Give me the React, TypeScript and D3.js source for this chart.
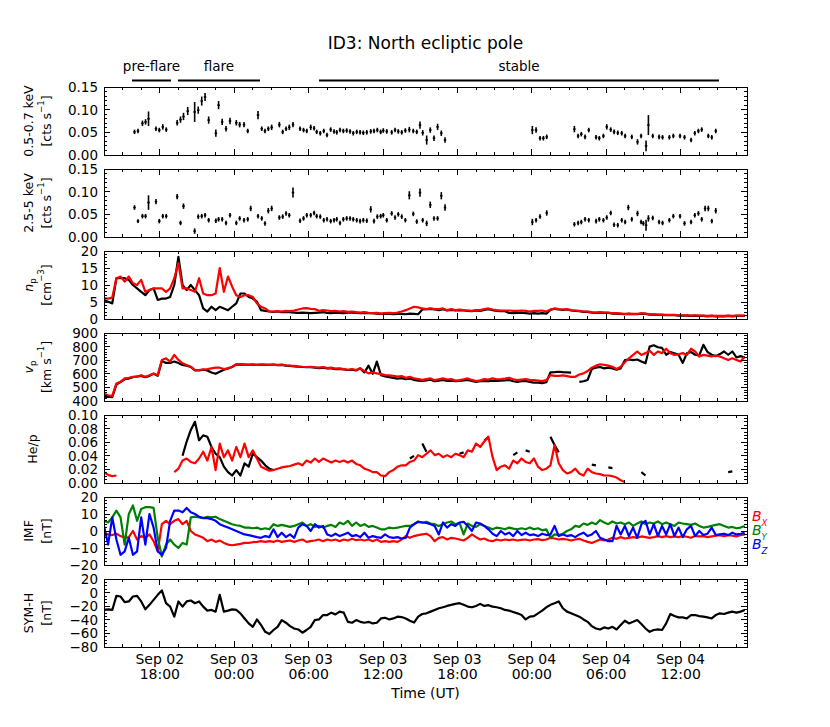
import React from 'react';
import * as d3 from 'd3';

// time axis: hours after Sep 02 00:00 UT
const DAY0 = Date.UTC(2015, 8, 2);
const toDate = (h: number) => new Date(DAY0 + h * 3600 * 1000);
const tStart = 13.5;
const tEnd = 65.35;
const gridStep = 1 / 3; // in-situ series are read every 20 min

// X-ray light curves (shared time bins)
const xrayHours = [
  15.96, 16.24, 16.60, 16.85, 17.09, 17.69, 17.96, 18.24, 18.52, 19.40,
  19.67, 19.91, 20.25, 20.81, 21.10, 21.38, 21.65, 21.94, 22.52, 22.74,
  23.03, 23.34, 23.66, 24.17, 24.44, 24.79, 25.09, 25.33, 25.92, 26.22,
  26.48, 26.75, 27.02, 27.64, 27.91, 28.18, 28.44, 28.74, 29.31, 29.59,
  29.85, 30.17, 30.44, 30.65, 30.94, 31.22, 31.48, 31.78, 32.05, 32.27,
  32.53, 32.80, 33.07, 33.34, 33.60, 33.88, 34.15, 34.41, 34.69, 35.01,
  35.27, 35.54, 35.81, 36.02, 36.30, 36.70, 36.97, 37.23, 37.51, 37.80,
  38.12, 38.44, 38.72, 38.98, 39.20, 39.52, 39.81, 40.11, 40.40, 40.70,
  41.00,
  48.04, 48.34, 48.66, 48.93, 49.20,
  51.43, 51.73, 51.99, 52.29, 52.59, 53.18, 53.44, 53.77, 54.04, 54.36,
  54.63, 54.93, 55.25, 55.52, 55.78, 56.06, 56.52, 56.81, 56.99, 57.21,
  57.40, 57.75, 58.26, 58.54, 59.09, 59.41, 59.95, 60.31, 60.84, 61.14,
  61.43, 61.70, 61.97, 62.23, 62.51, 62.83,
];
const softRate = [
  0.051, 0.053, 0.070, 0.073, 0.080, 0.058, 0.055, 0.062, 0.056, 0.071,
  0.078, 0.085, 0.097, 0.095, 0.099, 0.119, 0.128, 0.077, 0.048, 0.110,
  0.073, 0.058, 0.075, 0.071, 0.067, 0.067, 0.053, null, 0.088, 0.058,
  0.053, 0.058, 0.061, 0.067, 0.051, 0.058, 0.061, 0.067, 0.058, 0.055,
  0.053, 0.061, 0.059, 0.051, 0.048, 0.053, 0.044, 0.056, 0.052, 0.050,
  0.055, 0.053, 0.054, 0.052, 0.048, 0.051, 0.050, 0.049, 0.050, 0.052,
  0.053, 0.055, 0.051, 0.054, 0.052, 0.050, 0.055, 0.052, 0.050, 0.054,
  0.056, 0.053, 0.051, 0.066, 0.049, 0.033, 0.055, 0.037, 0.062, 0.048,
  0.033,
  0.055, 0.055, 0.037, 0.037, 0.040,
  0.057, 0.042, 0.046, 0.040, 0.055, 0.039, 0.037, 0.042, 0.062, 0.056,
  0.051, 0.049, 0.048, 0.042, null, 0.040, 0.029, 0.042, null, 0.020,
  0.066, 0.042, 0.040, 0.039, 0.039, 0.042, 0.042, 0.039, 0.033, 0.048,
  0.053, 0.056, null, 0.042, 0.039, 0.053,
];
const softErr = [
  0.005, 0.005, 0.006, 0.006, 0.016, 0.005, 0.005, 0.006, 0.005, 0.006,
  0.007, 0.008, 0.009, 0.022, 0.008, 0.010, 0.009, 0.008, 0.008, 0.009,
  0.007, 0.006, 0.007, 0.006, 0.006, 0.006, 0.005, 0, 0.009, 0.005,
  0.005, 0.005, 0.006, 0.006, 0.005, 0.005, 0.006, 0.006, 0.005, 0.005,
  0.005, 0.006, 0.005, 0.005, 0.005, 0.005, 0.005, 0.005, 0.005, 0.005,
  0.005, 0.005, 0.005, 0.005, 0.005, 0.005, 0.005, 0.005, 0.005, 0.005,
  0.005, 0.005, 0.005, 0.005, 0.005, 0.005, 0.005, 0.005, 0.005, 0.005,
  0.006, 0.005, 0.005, 0.008, 0.006, 0.010, 0.006, 0.006, 0.007, 0.006,
  0.006,
  0.009, 0.006, 0.005, 0.005, 0.005,
  0.007, 0.005, 0.005, 0.005, 0.005, 0.005, 0.005, 0.005, 0.006, 0.005,
  0.005, 0.005, 0.005, 0.005, 0, 0.005, 0.006, 0.005, 0, 0.012,
  0.022, 0.005, 0.005, 0.005, 0.005, 0.005, 0.005, 0.005, 0.005, 0.005,
  0.005, 0.005, 0, 0.005, 0.005, 0.005,
];
const hardRate = [
  0.065, 0.035, 0.046, 0.046, 0.076, 0.078, 0.035, 0.046, 0.046, 0.089,
  0.031, 0.068, null, 0.013, 0.045, 0.046, 0.048, 0.037, 0.036, 0.039,
  0.039, 0.031, 0.048, 0.031, 0.041, 0.037, 0.039, 0.063, 0.046, 0.041,
  0.030, 0.058, 0.063, 0.043, 0.045, 0.052, 0.048, 0.098, 0.036, 0.041,
  0.048, 0.048, 0.053, 0.046, 0.045, 0.037, 0.039, 0.035, 0.037, 0.039,
  0.031, 0.039, 0.041, 0.041, 0.039, 0.037, 0.035, 0.037, 0.036, 0.061,
  0.035, 0.045, 0.046, 0.048, 0.037, 0.052, 0.043, 0.050, 0.045, 0.037,
  0.092, 0.051, 0.034, 0.098, 0.037, 0.030, 0.071, 0.041, 0.041, 0.091,
  0.065,
  0.033, 0.037, 0.045, null, 0.053,
  0.028, 0.031, 0.033, 0.039, 0.037, 0.035, 0.039, 0.037, 0.043, 0.053,
  0.027, 0.026, 0.037, 0.033, 0.065, 0.039, 0.052, 0.033, 0.030, 0.026,
  0.041, 0.042, 0.033, 0.031, 0.037, 0.046, 0.046, 0.030, 0.033, 0.048,
  0.052, 0.039, 0.063, 0.063, 0.035, 0.058,
];
const hardErr = [
  0.005, 0.004, 0.005, 0.005, 0.016, 0.006, 0.005, 0.005, 0.005, 0.006,
  0.005, 0.006, 0, 0.006, 0.005, 0.005, 0.005, 0.005, 0.005, 0.005,
  0.005, 0.005, 0.005, 0.005, 0.005, 0.005, 0.005, 0.006, 0.005, 0.005,
  0.005, 0.006, 0.006, 0.005, 0.005, 0.005, 0.005, 0.011, 0.005, 0.005,
  0.005, 0.005, 0.005, 0.005, 0.005, 0.005, 0.005, 0.005, 0.005, 0.005,
  0.005, 0.005, 0.005, 0.005, 0.005, 0.005, 0.005, 0.005, 0.005, 0.007,
  0.005, 0.005, 0.005, 0.005, 0.005, 0.005, 0.005, 0.005, 0.005, 0.005,
  0.009, 0.005, 0.005, 0.009, 0.005, 0.006, 0.007, 0.005, 0.005, 0.008,
  0.007,
  0.007, 0.005, 0.005, 0, 0.006,
  0.005, 0.005, 0.005, 0.005, 0.005, 0.005, 0.005, 0.005, 0.005, 0.005,
  0.005, 0.005, 0.005, 0.005, 0.006, 0.005, 0.006, 0.005, 0.005, 0.012,
  0.007, 0.005, 0.005, 0.005, 0.005, 0.005, 0.005, 0.005, 0.005, 0.005,
  0.005, 0.005, 0.006, 0.006, 0.005, 0.006,
];

// proton density [cm^-3]
const npBlack = [
  5.6, 5.1, 4.6, 12.0, 12.0, 12.0, 11.5, 10.0, 9.0, 8.0,
  7.0, 8.5, 9.0, 5.6, 6.0, 6.0, 6.5, 10.0, 18.3, 10.0,
  8.5, 10.0, 8.5, 7.0, 3.1, 2.2, 3.6, 2.6, 3.6, 3.1,
  2.6, 3.6, 4.6, 7.5, 7.5, 6.5, 6.0, 5.1, 2.6, 2.4,
  2.2, 2.1, 2.2, 2.0, 2.1, 2.0, 1.9, 1.8, 1.9, 1.8,
  1.7, 1.8, 1.9, 2.0, 1.8, 1.7, 1.9, 1.8, 1.7, 1.9,
  1.9, 1.8, 1.7, 1.8, 1.7, 1.7, 1.6, 1.5, 1.6, 1.5,
  1.4, 1.5, 1.5, 1.4, 1.6, 1.5, 1.4, 2.8, 2.9, 3.0,
  2.8, 2.6, 2.9, 2.5, 2.7, 2.5, 2.6, 2.5, 2.4, 2.3,
  2.5, 2.4, 2.7, 2.9, 2.6, 2.4, 2.3, 2.3, 1.8, 1.7,
  1.8, 1.9, 1.7, 1.6, 1.7, 1.6, 1.7, 1.6, 2.7, 3.0,
  2.8, 2.7, 2.8, 2.5, 2.4, 2.3, 2.1, 2.1, 1.9, 1.8,
  1.9, 1.8, 1.8, 1.6, 1.6, 1.5, 1.4, 1.5, 1.4, 1.4,
  1.6, 1.5, 1.3, 1.3, 1.2, 1.2, 1.1, 1.1, 1.1, 1.0,
  1.0, 1.0, 0.9, 1.0, 0.9, 0.9, 0.8, 0.9, 0.8, 0.8,
  0.8, 0.9, 0.8, 0.9, 0.9, 0.9,
];
const npRed = [
  6.1, 6.0, 6.3, 12.0, 12.5, 11.0, 12.5, 10.5, 10.0, 11.5,
  8.0, 8.5, 9.0, 9.0, 9.0, 8.0, 9.0, 12.0, 16.4, 9.0,
  9.0, 8.5, 8.0, 12.0, 7.5, 7.0, 7.0, 7.5, 15.0, 8.0,
  12.5, 9.5, 7.0, 6.5, 7.0, 7.0, 6.5, 4.6, 3.6, 3.1,
  2.2, 2.2, 2.3, 2.2, 2.4, 2.3, 2.5, 2.8, 3.1, 3.2,
  3.0, 2.9, 2.4, 2.6, 2.5, 2.3, 2.4, 2.2, 2.3, 2.1,
  2.2, 2.0, 1.9, 2.0, 1.8, 1.7, 1.8, 1.6, 1.7, 1.8,
  1.7, 1.9, 2.2, 2.6, 3.1, 3.6, 3.4, 3.1, 2.9, 3.1,
  2.9, 2.9, 3.1, 2.6, 2.9, 2.6, 2.8, 2.6, 2.5, 2.4,
  2.6, 2.6, 2.9, 3.1, 2.8, 2.6, 2.5, 2.5, 2.5, 2.4,
  2.4, 2.5, 2.4, 2.2, 2.4, 2.4, 2.5, 2.2, 2.8, 3.1,
  2.9, 2.8, 2.9, 2.6, 2.5, 2.4, 2.2, 2.2, 2.0, 1.9,
  2.0, 1.9, 1.9, 1.7, 1.7, 1.6, 1.5, 1.6, 1.5, 1.5,
  1.7, 1.6, 1.4, 1.4, 1.3, 1.3, 1.2, 1.2, 1.2, 1.1,
  1.1, 1.1, 1.0, 1.1, 1.0, 1.0, 0.9, 1.0, 0.9, 0.9,
  0.9, 1.0, 0.9, 1.0, 1.0, 1.0,
];

// proton speed [km/s]
const vpBlack = [
  430, 432, 428, 520, 540, 560, 565, 575, 580, 585,
  575, 585, 600, 585, 695, 680, 680, 690, 680, 665,
  660, 650, 625, 625, 630, 625, 610, 600, 615, 630,
  640, 650, 668, 670, 668, 666, 668, 665, 667, 666,
  665, 667, 663, 665, 660, 658, 655, 652, 650, 648,
  648, 645, 642, 645, 640, 640, 635, 636, 632, 628,
  630, 625, 640, 610, 660, 600, 690, 590, 580, 575,
  570, 565, 568, 560, 565, 555, 550, 548, 552, 556,
  545, 550, 555, 548, 550, 545, 548, 552, 555, 548,
  540, 545, 548, 545, 550, 548, 550, 552, 555, 545,
  540, 545, 548, 540, 535, 535, 532, 538, 610, 612,
  615, 612, 610, 608, null, 540, 545, 555, 635, 645,
  650, 640, 645, 640, 630, 640, 700, 705, 700, 705,
  690, 677, 800, 810, 795, 790, 740, 760, 750, 740,
  680, 750, 760, 740, 735, 813, 760, 740, 730, 745,
  764, 740, 764, 720, 730, 720,
];
const vpRed = [
  454, 442, 437, 529, 541, 566, 571, 578, 578, 590,
  578, 590, 603, 590, 702, 714, 690, 739, 702, 677,
  665, 652, 628, 628, 633, 635, 640, 645, 645, 635,
  640, 652, 670, 672, 668, 667, 669, 666, 668, 667,
  666, 668, 665, 667, 663, 660, 658, 655, 652, 650,
  652, 648, 645, 650, 642, 645, 638, 640, 635, 630,
  635, 628, 640, 620, 603, 610, 603, 598, 590, 588,
  585, 580, 583, 570, 578, 566, 561, 555, 561, 566,
  553, 560, 566, 558, 561, 550, 553, 560, 566, 555,
  546, 552, 561, 558, 566, 560, 561, 565, 571, 560,
  553, 558, 561, 555, 553, 550, 546, 553, 590, 585,
  585, 588, 583, 578, 578, 595, 603, 620, 645, 660,
  670, 665, 660, 652, 635, 652, 685, 714, 739, 764,
  739, 752, 769, 739, 764, 752, 784, 752, 739, 744,
  752, 739, 784, 764, 727, 739, 734, 727, 734, 727,
  714, 702, 714, 702, 690, 727,
];

// alpha-to-proton ratio
const hepBlack = [
  null, null, null, null, null, null, null, null, null, null,
  null, null, null, null, null, null, null, null, null, 0.040,
  0.061, 0.078, 0.090, 0.063, 0.070, 0.068, 0.053, 0.043, 0.038, 0.024,
  0.016, 0.011, 0.019, 0.011, 0.029, 0.024, 0.043, 0.038, 0.033, 0.026,
  0.021, 0.019, null, null, null, null, null, null, null, null,
  null, null, null, null, null, null, null, null, null, null,
  null, null, null, null, null, null, null, null, null, null,
  null, null, null, null, 0.036, 0.040, null, 0.058, 0.046, null,
  null, null, null, null, null, null, 0.043, 0.045, null, null,
  null, null, 0.062, 0.068, null, null, null, null, null, 0.041,
  0.045, null, 0.048, 0.046, null, null, null, null, 0.068, 0.056,
  0.045, null, null, null, null, null, null, null, 0.027, 0.026,
  null, null, 0.023, 0.022, null, null, null, null, null, null,
  0.016, 0.011, null, null, null, null, null, null, null, null,
  null, null, null, null, null, null, null, null, null, null,
  null, 0.016, 0.017, null, null, null,
];
const hepRed = [
  0.016, 0.012, 0.010, 0.011, null, null, null, null, null, null,
  null, null, null, null, null, null, null, 0.016, 0.021, 0.033,
  0.036, 0.031, 0.029, 0.036, 0.046, 0.033, 0.053, 0.019, 0.058, 0.038,
  0.048, 0.033, 0.053, 0.038, 0.058, 0.038, 0.048, 0.036, 0.024, 0.021,
  0.018, 0.019, 0.021, 0.023, 0.024, 0.025, 0.027, 0.029, 0.026, 0.033,
  0.030, 0.036, 0.031, 0.036, 0.033, 0.030, 0.033, 0.031, 0.033, 0.030,
  0.033, 0.028, 0.026, 0.021, 0.019, 0.016, 0.016, 0.011, 0.010, 0.016,
  0.019, 0.024, 0.026, 0.026, 0.031, 0.033, 0.041, 0.038, 0.043, 0.048,
  0.041, 0.043, 0.038, 0.041, 0.038, 0.043, 0.041, 0.038, 0.048, 0.046,
  0.058, 0.053, 0.061, 0.068, 0.038, 0.019, 0.024, 0.026, 0.021, 0.033,
  0.029, 0.036, 0.031, 0.029, 0.036, 0.024, 0.019, 0.021, 0.026, 0.056,
  0.029, 0.019, 0.014, 0.016, 0.021, 0.014, 0.011, 0.021, 0.016, 0.014,
  0.013, 0.011, 0.011, 0.010, 0.008, 0.004, 0.0015, null, null, null,
  null, null, null, null, null, null, null, null, null, null,
  null, null, null, null, null, null, null, null, null, null,
  null, null, null, null, null, null,
];

// IMF components [nT]
const bx = [
  -1, -2, -2.4, -1.6, -3, -4, -3.6, 0, -5, -3,
  -4, -2, -6, -12, 4, 6, 4, 6, 7, 4,
  6, 0, -2, -3, -4, -6, -5, -6.4, -5.6, -7,
  -8, -8.4, -8, -7.6, -7, -7, -6.6, -6.4, -6, -6.4,
  -6, -6.4, -5.6, -6.4, -6, -5.6, -6.4, -5.6, -5, -6.4,
  -6, -5.6, -5, -6, -5, -5.6, -5, -6, -5, -5.6,
  -4.6, -5.4, -5, -5.6, -5, -6, -5, -6.4, -6, -6.4,
  -6, -6.4, -5, -3, -4, -3, -2.4, -2, -1.6, -3,
  -6, -4, -3.6, -5, -4, -4.4, -5, -5.6, -4, -2,
  -3.6, -5, -4.4, -5.6, -6, -5, -5.6, -5, -5.4, -5,
  -5.6, -5.2, -5, -5.6, -5, -4.8, -5.4, -5, -4, -4.4,
  -5, -4.6, -5, -5.6, -5, -4.6, -5.6, -6.4, -7, -6,
  -5, -5.6, -5, -4, -4.6, -3.6, -4.4, -4, -3.6, -4,
  -3.2, -3.6, -4, -3.6, -3, -3.6, -3, -3.6, -3.2, -3.6,
  -3, -3.4, -4, -3, -3.2, -3, -3.6, -3.2, -2.8, -2.4,
  -3, -2.4, -2.8, -3.2, -2.4, -2,
];
const by = [
  6, 5, 8, 12, 8, -8, 10, 15, 6, 13,
  14, 14, 13.6, -4, -15, -8, -5, -8, -10, -7,
  -8, 8, 8.4, 8, 7.6, 8.4, 8, 8.4, 7, 6,
  5, 4, 3.4, 3, 2, 2, 1.6, 2, 1, 1.6,
  1, 4, 3, 3.6, 3, 2.4, 3, 4, 5, 3,
  4, 2.4, 3, 2, 3, 3.6, 2.4, 5, 4, 6,
  3, 5, 3, 4, 2.4, 3, 2, 1, 1, 2,
  1.6, 2, 2.5, 3, 3, 4, 5.6, 5, 5.4, 4.4,
  4, 3, 4, 5, 5.6, 4, 4.8, -2, 4.4, 3,
  2.4, 4, 3, 2, 1, 2, 1.6, 1, 2, 1.4,
  1, 1.6, 1, 2, 1, 1.6, 0.4, 1, -4, -2,
  -2.4, -1.6, 0, 1, 3, 2.4, 4.4, 3.6, 5, 4,
  6.4, 5, 4, 5.6, 4.4, 5, 4, 5, 3, 4.4,
  5.6, 4, 5, 4.4, 5.6, 4, 5, 4, 3, 5,
  4.4, 4, 3.6, 4.4, 3, 2, 2.4, 3, 3.6, 4,
  3, 2, 2.4, 1.6, 2, 3,
];
const bz = [
  3, -8, 8, -5, -14, -12, -4, -14, -12, 8,
  -8, 10, 2, -12, -14, -10, 6, 12, 12, 11,
  13.6, 11, 10, 8.4, 7.6, 7.6, 7, 6, 4, 3,
  2, 1, 0, -1, -2, -2.4, -3, -3.6, -4, -3,
  -3.6, 1, -3.6, -1, -3.6, -2, -4, 2, 4, 3,
  0, 4, 2, 3, -2, -3, -1.6, -3, -2, -1,
  -3, -2.4, -3.6, -1, -4, -3, -3.6, -4, -2, -3.6,
  -4, -3.6, -4.4, -4, 2, 4, 5.4, 5, 4.8, 4,
  3, -2, 5, 2, 4, 3, 5, 5.4, 3, 0,
  5, 4.4, 3, 1, -1.6, -3, 0, -2, -1, -3,
  0, -2.4, -1, -2.4, -2, -3, -1.6, -2.4, -2, 3,
  -3, -2, -3, -2.4, -3.6, -2, -1, -3, -2, 0,
  -4, -5, -6, -6, 3, -2, 3, -3, 2, -4,
  4, 6, -2, 4, -3, 3, -2, 4, -3, 2,
  -3.6, 1, 3, -3, 0, -2.4, -1.6, 2, -2.4, -2,
  -1.6, -2.4, -1, -2, -1.6, -1,
];

// SYM-H index [nT]
const symH = [
  -25.5, -24.6, -25.5, -4.8, -5.7, -14, -13, -5.7, -4.8, -13,
  -24.6, -18, -10.7, -3.3, 3.2, -15.6, -20.6, -35.4, -13, -20.6,
  -13, -11.6, -15.6, -13, -20.6, -26.5, -25.5, -28, -3.3, -28,
  -26.5, -24.6, -25.5, -30.5, -38, -45.3, -50.3, -39.5, -47.7, -57.7,
  -61, -55, -50.3, -40.4, -44.3, -49.3, -52.8, -54.2, -59, -55,
  -50.3, -40.4, -39.5, -33, -33, -29.5, -32, -28, -29.5, -43,
  -44.3, -40.4, -43, -44.3, -43, -45.3, -44.3, -38, -37, -39.5,
  -38, -35.4, -36, -38, -41.4, -44, -35.4, -31.5, -30.5, -28,
  -25.5, -23, -21.6, -19.6, -18, -16.6, -15.6, -18, -20.6, -21.6,
  -19.6, -16.6, -19.6, -18.5, -20.6, -21.6, -23, -25.5, -26.5, -28.5,
  -30.5, -33, -39.5, -35.4, -34.5, -30.5, -26.5, -21.6, -18, -15.6,
  -13, -23, -28, -30.5, -33, -35.4, -39.5, -43, -49.3, -52.8,
  -54.2, -51.2, -52.8, -50.3, -54.2, -47.7, -41.4, -45.3, -43, -40.4,
  -46.3, -52.8, -57.7, -55, -54.2, -55, -45.3, -31.5, -34.5, -36.4,
  -36.4, -38, -33, -33, -34.5, -35.4, -36.4, -38, -33, -30.5,
  -31.5, -29.5, -28, -29.5, -28, -25.5,
];

// interval markers above the top panel
const phaseNames = ['pre-flare', 'flare', 'stable'];
const phaseStart = [15.76, 19.47, 30.84];
const phaseEnd = [18.9, 26.08, 63.09];

const W = 830;
const H = 727;
const X0 = 104;
const X1 = 747;
const PH = 68;
const panelTop = (i: number) => 87 + 82 * i;
const FONT = 'DejaVu Sans, sans-serif';
const TICK_FS = 13.5;

const axesSpec = [
  { domain: [0, 0.15], major: 0.05, minor: 0.01, fmt: '.2f' },
  { domain: [0, 0.15], major: 0.05, minor: 0.01, fmt: '.2f' },
  { domain: [0, 20], major: 5, minor: 1, fmt: 'd' },
  { domain: [400, 900], major: 100, minor: 20, fmt: 'd' },
  { domain: [0, 0.1], major: 0.02, minor: 0.005, fmt: '.2f' },
  { domain: [-20, 20], major: 10, minor: 2, fmt: 'd' },
  { domain: [-80, 20], major: 20, minor: 5, fmt: 'd' },
];

const sup = (s: string) => <tspan baselineShift="super" fontSize={8.5}>{s}</tspan>;
const sub = (s: string, italic = false) => (
  <tspan baselineShift="sub" fontSize={8.5} fontStyle={italic ? 'italic' : 'normal'}>{s}</tspan>
);

const yLabels = [
  [<>0.5-0.7 keV</>, <>[cts s{sup('−1')}]</>],
  [<>2.5-5 keV</>, <>[cts s{sup('−1')}]</>],
  [<><tspan fontStyle="italic">n</tspan>{sub('p')}</>, <>[cm{sup('−3')}]</>],
  [<><tspan fontStyle="italic">v</tspan>{sub('p')}</>, <>[km s{sup('−1')}]</>],
  [<>He/p</>],
  [<>IMF</>, <>[nT]</>],
  [<>SYM-H</>, <>[nT]</>],
];

const x = d3.scaleUtc().domain([toDate(tStart), toDate(tEnd)]).range([X0, X1]);
const gridX = npRed.map((_, i) => x(toDate(tStart + i * gridStep)));
const majorX = x.ticks(d3.utcHour.every(6));
const minorX = d3.utcMinute
  .every(30)
  .range(toDate(tStart), toDate(tEnd))
  .filter((d) => (d.getUTCHours() * 60 + d.getUTCMinutes()) % 90 === 0);

const stepsOf = (lo: number, hi: number, step: number) =>
  d3.range(Math.round((hi - lo) / step) + 1).map((k) => lo + k * step);

const path = (y: any, vals: (number | null)[]) =>
  d3
    .line<number | null>()
    .defined((v) => v != null)
    .x((_, j) => gridX[j])
    .y((v) => y(v as number))(vals) || '';

function ErrorBars({ y, vals, errs }: any) {
  return (
    <g>
      {xrayHours.map((h, j) => {
        const v = vals[j];
        if (v == null) return null;
        const cx = x(toDate(h));
        const e = Math.max(errs[j], 0.003);
        return (
          <g key={j}>
            <line x1={cx} x2={cx} y1={y(v - e)} y2={y(v + e)} stroke="#000" strokeWidth={1.6} />
            <line x1={x(toDate(h - 0.1))} x2={x(toDate(h + 0.1))} y1={y(v)} y2={y(v)} stroke="#000" strokeWidth={1.6} />
          </g>
        );
      })}
    </g>
  );
}

export default function App() {
  const ys = axesSpec.map((s, i) =>
    d3.scaleLinear().domain(s.domain).range([panelTop(i) + PH, panelTop(i)])
  );
  const lineStyle = { fill: 'none', strokeWidth: 2.2, strokeLinejoin: 'round' as const };

  return (
    <svg
      width={W}
      height={H}
      style={{ position: 'absolute', left: 0, top: 0, display: 'block', fontFamily: FONT }}
    >
      <rect width={W} height={H} fill="#fff" />
      <defs>
        {axesSpec.map((_, i) => (
          <clipPath id={`clip${i}`} key={i}>
            <rect x={X0} y={panelTop(i)} width={X1 - X0} height={PH} />
          </clipPath>
        ))}
      </defs>

      <text x={(X0 + X1) / 2} y={49} textAnchor="middle" fontSize={17}>
        ID3: North ecliptic pole
      </text>

      {phaseNames.map((name, k) => {
        const a = x(toDate(phaseStart[k]));
        const b = x(toDate(phaseEnd[k]));
        return (
          <g key={name}>
            <line x1={a} x2={b} y1={80.5} y2={80.5} stroke="#000" strokeWidth={2} />
            <text x={(a + b) / 2} y={71} textAnchor="middle" fontSize={13.5}>
              {name}
            </text>
          </g>
        );
      })}

      {/* data */}
      <g clipPath="url(#clip0)">
        <ErrorBars y={ys[0]} vals={softRate} errs={softErr} />
      </g>
      <g clipPath="url(#clip1)">
        <ErrorBars y={ys[1]} vals={hardRate} errs={hardErr} />
      </g>
      <g clipPath="url(#clip2)">
        <path d={path(ys[2], npBlack)} stroke="#000" {...lineStyle} />
        <path d={path(ys[2], npRed)} stroke="#ff0000" {...lineStyle} />
      </g>
      <g clipPath="url(#clip3)">
        <path d={path(ys[3], vpBlack)} stroke="#000" {...lineStyle} />
        <path d={path(ys[3], vpRed)} stroke="#ff0000" {...lineStyle} />
      </g>
      <g clipPath="url(#clip4)">
        <path d={path(ys[4], hepBlack)} stroke="#000" {...lineStyle} />
        <path d={path(ys[4], hepRed)} stroke="#ff0000" {...lineStyle} />
      </g>
      <g clipPath="url(#clip5)">
        <path d={path(ys[5], bx)} stroke="#ff0000" {...lineStyle} />
        <path d={path(ys[5], by)} stroke="#008000" {...lineStyle} />
        <path d={path(ys[5], bz)} stroke="#0000ff" {...lineStyle} />
      </g>
      <g clipPath="url(#clip6)">
        <path d={path(ys[6], symH)} stroke="#000" {...lineStyle} />
      </g>

      {/* frames, ticks, labels */}
      {axesSpec.map((s, i) => {
        const y = ys[i];
        const t = panelTop(i);
        const b = t + PH;
        const fmt = d3.format(s.fmt);
        const majors = stepsOf(s.domain[0], s.domain[1], s.major);
        const minors = stepsOf(s.domain[0], s.domain[1], s.minor);
        const labels = yLabels[i];
        const cy = t + PH / 2;
        return (
          <g key={i}>
            <g stroke="#000" strokeWidth={1} shapeRendering="crispEdges">
              {minorX.map((d, k) => {
                const xx = x(d);
                return (
                  <g key={`m${k}`}>
                    <line x1={xx} x2={xx} y1={b} y2={b - 3} />
                    <line x1={xx} x2={xx} y1={t} y2={t + 3} />
                  </g>
                );
              })}
              {majorX.map((d, k) => {
                const xx = x(d);
                return (
                  <g key={`M${k}`}>
                    <line x1={xx} x2={xx} y1={b} y2={b - 6} />
                    <line x1={xx} x2={xx} y1={t} y2={t + 6} />
                  </g>
                );
              })}
              {minors.map((v, k) => (
                <g key={`ym${k}`}>
                  <line x1={X0} x2={X0 + 3} y1={y(v)} y2={y(v)} />
                  <line x1={X1} x2={X1 - 3} y1={y(v)} y2={y(v)} />
                </g>
              ))}
              {majors.map((v, k) => (
                <g key={`yM${k}`}>
                  <line x1={X0} x2={X0 + 6} y1={y(v)} y2={y(v)} />
                  <line x1={X1} x2={X1 - 6} y1={y(v)} y2={y(v)} />
                </g>
              ))}
              <rect x={X0} y={t} width={X1 - X0} height={PH} fill="none" />
            </g>
            {majors.map((v, k) => (
              <text key={`yl${k}`} x={X0 - 6} y={y(v)} textAnchor="end" dominantBaseline="central" fontSize={TICK_FS}>
                {fmt(v)}
              </text>
            ))}
            {labels.length === 2 ? (
              <>
                <text transform={`translate(28,${cy}) rotate(-90)`} textAnchor="middle" dominantBaseline="central" fontSize={12.5}>
                  {labels[0]}
                </text>
                <text transform={`translate(46,${cy}) rotate(-90)`} textAnchor="middle" dominantBaseline="central" fontSize={12.5}>
                  {labels[1]}
                </text>
              </>
            ) : (
              <text transform={`translate(32,${cy}) rotate(-90)`} textAnchor="middle" dominantBaseline="central" fontSize={12.5}>
                {labels[0]}
              </text>
            )}
          </g>
        );
      })}

      {/* bottom time labels */}
      {majorX.map((d, k) => (
        <text key={k} x={x(d)} textAnchor="middle" fontSize={14}>
          <tspan x={x(d)} y={664}>{d3.utcFormat('%b %d')(d)}</tspan>
          <tspan x={x(d)} y={679}>{d3.utcFormat('%H:%M')(d)}</tspan>
        </text>
      ))}
      <text x={(X0 + X1) / 2} y={698} textAnchor="middle" fontSize={14}>
        Time (UT)
      </text>

      {/* IMF component legend */}
      <text x={752} y={521} fontSize={14} fill="#ff0000">
        <tspan fontStyle="italic">B</tspan>{sub('X', true)}
      </text>
      <text x={752} y={535} fontSize={14} fill="#008000">
        <tspan fontStyle="italic">B</tspan>{sub('Y', true)}
      </text>
      <text x={752} y={549} fontSize={14} fill="#0000ff">
        <tspan fontStyle="italic">B</tspan>{sub('Z', true)}
      </text>
    </svg>
  );
}
